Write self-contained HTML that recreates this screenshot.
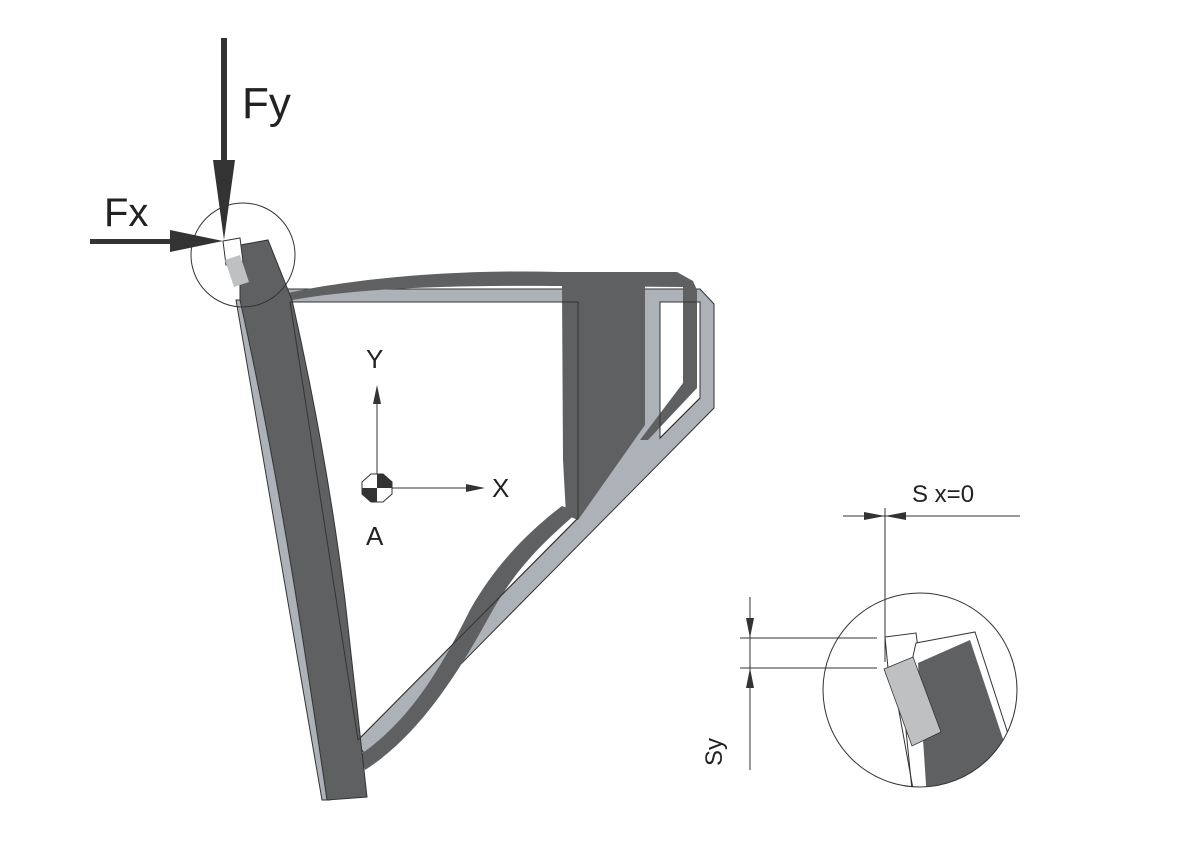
<!DOCTYPE html>
<html><head><style>
body{margin:0;background:#fff}
svg{display:block}
text{font-family:"Liberation Sans",sans-serif;fill:#222}
</style></head><body>
<svg width="1178" height="851" viewBox="0 0 1178 851">
<defs><clipPath id="cc"><circle cx="920" cy="690" r="97"/></clipPath></defs>
<!-- light original frame -->
<path fill="#adb2b8" fill-rule="evenodd" stroke="#333" stroke-width="1"
 d="M283,289 L700,289 L714,304 L714,408 L368,758 L358,745 L290,302 Z
    M290,302 L578,302 L578,518 L358,740 Z
    M660,302 L700,302 L700,398 L660,438 Z"/>
<path fill="#adb2b8" stroke="#333" stroke-width="1" d="M236,300 L290,300 L362,760 L330,800 L322,800 Z"/>
<!-- dark deformed frame -->
<path fill="#5f6062" d="M283,294 C350,279 450,269 560,272 L677,272 L693,281 L697,290 L683,290 L683,287 L560,286 C450,285 360,288 292,300 Z"/>
<path fill="#5f6062" d="M683,286 L697,290 L697,388 L648,440 L640,440 L683,383 Z"/>
<path fill="#5f6062" d="M562,286 L645,286 L645,425 L578,520 L566,515 L563,460 Z"/>
<path fill="#5f6062" d="M562,506 L578,512 C540,545 515,570 490,615 C460,670 420,735 365,770 L360,755 C410,720 440,670 470,610 C495,565 530,530 562,506 Z"/>
<path fill="#5f6062" stroke="#333" stroke-width="1" d="M240,245 L268,240 L292,300 C310,380 330,480 345,600 L367,797 L327,800 C305,650 280,480 240,300 Z"/>
<path fill="none" stroke="#333" stroke-width="1" d="M290,302 L358,740 M578,302 L578,518 L358,740 M290,302 L578,302 M660,302 L700,302 L700,398 L660,438 Z"/>
<!-- corner detail -->
<polygon points="223,241 240,238 243,262 226,265" fill="#fff" stroke="#333" stroke-width="1"/>
<polygon points="225,260 240,255 249,282 234,287" fill="#bfc0c2"/>
<circle cx="243" cy="255" r="52" fill="none" stroke="#333" stroke-width="1"/>
<!-- forces -->
<rect x="221" y="38" width="6" height="125" fill="#333"/>
<polygon points="213,160 235,160 224,240" fill="#333"/>
<rect x="90" y="239" width="85" height="5" fill="#333"/>
<polygon points="170,230 170,252 223,241" fill="#333"/>
<text x="242" y="118" font-size="44">Fy</text>
<text x="104" y="226" font-size="40">Fx</text>
<!-- axes -->
<line x1="377" y1="488" x2="377" y2="400" stroke="#333" stroke-width="1"/>
<polygon points="373,404 381,404 377,385" fill="#333"/>
<line x1="377" y1="488" x2="470" y2="488" stroke="#333" stroke-width="1"/>
<polygon points="466,484 466,492 485,488" fill="#333"/>
<text x="366" y="368" font-size="26">Y</text>
<text x="492" y="497" font-size="26">X</text>
<text x="366" y="545" font-size="26">A</text>
<polygon points="371,474 383,474 392,482 392,494 383,502 371,502 362,494 362,482" fill="#fff" stroke="#333" stroke-width="1"/>
<path d="M377,488 L377,474 L383,474 L392,482 L392,488 Z M377,488 L377,502 L371,502 L362,494 L362,488 Z" fill="#333"/>
<!-- detail view -->
<g clip-path="url(#cc)">
<polygon points="885,637 916,633 920,663 888,668" fill="#fff" stroke="#333" stroke-width="1"/>
<polygon points="916,643 975,632 1010,740 940,800 912,790 903,700" fill="#fff" stroke="#333" stroke-width="1"/>
<polygon points="918,663 970,640 1010,760 927,800" fill="#5f6062"/>
<line x1="897" y1="700" x2="915" y2="800" stroke="#333" stroke-width="1"/>
<polygon points="884,669 913,657 941,732 912,746" fill="#bfc0c2" stroke="#333" stroke-width="0.8"/>
</g>
<circle cx="920" cy="690" r="97" fill="none" stroke="#333" stroke-width="1"/>
<line x1="843" y1="516" x2="1020" y2="516" stroke="#333" stroke-width="1"/>
<polygon points="864,512 864,520 885,516" fill="#333"/>
<polygon points="906,512 906,520 885,516" fill="#333"/>
<line x1="885" y1="508" x2="885" y2="662" stroke="#333" stroke-width="1"/>
<line x1="740" y1="638" x2="877" y2="638" stroke="#333" stroke-width="1"/>
<line x1="740" y1="668" x2="877" y2="668" stroke="#333" stroke-width="1"/>
<line x1="750" y1="597" x2="750" y2="770" stroke="#333" stroke-width="1"/>
<polygon points="746,618 754,618 750,638" fill="#333"/>
<polygon points="746,688 754,688 750,668" fill="#333"/>
<text x="912" y="502" font-size="24">S x=0</text>
<text x="0" y="0" font-size="24" transform="translate(722,766) rotate(-90)">Sy</text>
</svg>
</body></html>
